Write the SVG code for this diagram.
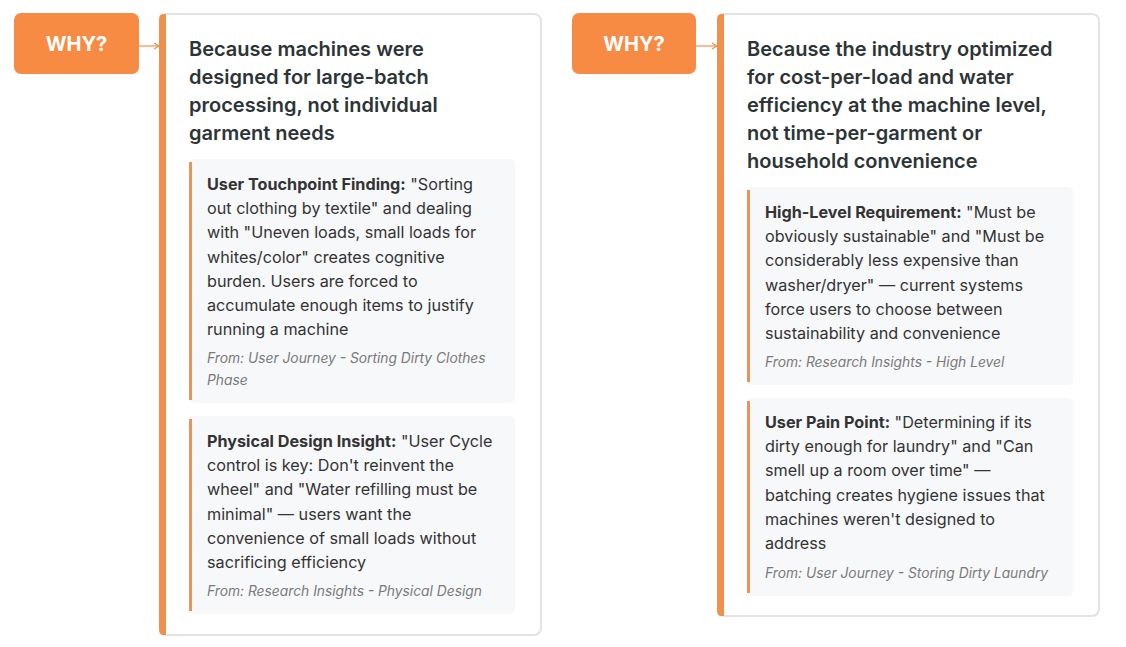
<svg xmlns="http://www.w3.org/2000/svg" width="1126" height="647" viewBox="0 0 1126 647">
<defs>
<style>
.why{fill:#F88B44}
.whyt{font-family:Inter,"Noto Sans",sans-serif;font-weight:700;font-size:20px;fill:#fff;text-anchor:middle}
.card{fill:#fff;stroke:#e3e3e3;stroke-width:2}
.bar{fill:#F0904F}
.title{font-family:Inter,"Noto Sans",sans-serif;font-weight:600;font-size:20px;fill:#2d3436}
.sub{fill:#f7f8fa}
.subbar{fill:#E8945C}
.body{font-family:Inter,"Noto Sans",sans-serif;font-size:16.2px;fill:#333}
.body tspan.b{font-weight:700}
.src{font-family:Inter,"Noto Sans",sans-serif;font-size:13.8px;font-style:italic;fill:#7a7a7a}
.conn{stroke:#F0904F;stroke-width:1.2;fill:none}
</style>
<marker id="ah" markerWidth="8" markerHeight="8" refX="6" refY="4" orient="auto" markerUnits="userSpaceOnUse">
<path d="M1,1 L6,4 L1,7" fill="none" stroke="#F0904F" stroke-width="1.2"/>
</marker>
</defs>
<rect width="1126" height="647" fill="#fff"/>
<g id="connectors">
<line class="conn" x1="139" y1="46" x2="159" y2="46" marker-end="url(#ah)"/>
<line class="conn" x1="696" y1="46" x2="717" y2="46" marker-end="url(#ah)"/>
</g>
<g id="why1">
<rect class="why" x="14" y="13" width="125" height="61" rx="7"/>
<text class="whyt" x="76.5" y="51">WHY?</text>
</g>
<g id="card1">
<rect class="card" x="160" y="14" width="381" height="621" rx="7"/>
<path class="bar" d="M166,14 L163,14 Q159,14 159,20 L159,629 Q159,635 163,635 L166,635 Z"/>
<text class="title"><tspan x="189" y="56">Because machines were</tspan><tspan x="189" y="84">designed for large-batch</tspan><tspan x="189" y="112">processing, not individual</tspan><tspan x="189" y="140">garment needs</tspan></text>
</g>
<g id="sub1">
<rect class="sub" x="189" y="159" width="326" height="244" rx="5"/>
<rect class="subbar" x="189" y="162" width="3" height="238"/>
<text class="body"><tspan x="207" y="190"><tspan class="b">User Touchpoint Finding:</tspan> "Sorting</tspan><tspan x="207" y="214">out clothing by textile" and dealing</tspan><tspan x="207" y="238">with "Uneven loads, small loads for</tspan><tspan x="207" y="263">whites/color" creates cognitive</tspan><tspan x="207" y="287">burden. Users are forced to</tspan><tspan x="207" y="311">accumulate enough items to justify</tspan><tspan x="207" y="335">running a machine</tspan></text>
<text class="src"><tspan x="207" y="363">From: User Journey - Sorting Dirty Clothes</tspan><tspan x="207" y="385">Phase</tspan></text>
</g>
<g id="sub2">
<rect class="sub" x="189" y="416" width="326" height="198" rx="5"/>
<rect class="subbar" x="189" y="419" width="3" height="192"/>
<text class="body"><tspan x="207" y="447"><tspan class="b">Physical Design Insight:</tspan> "User Cycle</tspan><tspan x="207" y="471">control is key: Don't reinvent the</tspan><tspan x="207" y="495">wheel" and "Water refilling must be</tspan><tspan x="207" y="520">minimal" — users want the</tspan><tspan x="207" y="544">convenience of small loads without</tspan><tspan x="207" y="568">sacrificing efficiency</tspan></text>
<text class="src"><tspan x="207" y="596">From: Research Insights - Physical Design</tspan></text>
</g>
<g id="why2">
<rect class="why" x="572" y="13" width="124" height="61" rx="7"/>
<text class="whyt" x="634" y="51">WHY?</text>
</g>
<g id="card2">
<rect class="card" x="718" y="14" width="381" height="602" rx="7"/>
<path class="bar" d="M724,14 L721,14 Q717,14 717,20 L717,610 Q717,616 721,616 L724,616 Z"/>
<text class="title"><tspan x="747" y="56">Because the industry optimized</tspan><tspan x="747" y="84">for cost-per-load and water</tspan><tspan x="747" y="112">efficiency at the machine level,</tspan><tspan x="747" y="140">not time-per-garment or</tspan><tspan x="747" y="168">household convenience</tspan></text>
</g>
<g id="sub3">
<rect class="sub" x="747" y="187" width="326" height="198" rx="5"/>
<rect class="subbar" x="747" y="190" width="3" height="192"/>
<text class="body"><tspan x="765" y="218"><tspan class="b">High-Level Requirement:</tspan> "Must be</tspan><tspan x="765" y="242">obviously sustainable" and "Must be</tspan><tspan x="765" y="266">considerably less expensive than</tspan><tspan x="765" y="291">washer/dryer" — current systems</tspan><tspan x="765" y="315">force users to choose between</tspan><tspan x="765" y="339">sustainability and convenience</tspan></text>
<text class="src"><tspan x="765" y="367">From: Research Insights - High Level</tspan></text>
</g>
<g id="sub4">
<rect class="sub" x="747" y="398" width="326" height="198" rx="5"/>
<rect class="subbar" x="747" y="401" width="3" height="192"/>
<text class="body"><tspan x="765" y="428"><tspan class="b">User Pain Point:</tspan> "Determining if its</tspan><tspan x="765" y="452">dirty enough for laundry" and "Can</tspan><tspan x="765" y="476">smell up a room over time" —</tspan><tspan x="765" y="501">batching creates hygiene issues that</tspan><tspan x="765" y="525">machines weren't designed to</tspan><tspan x="765" y="549">address</tspan></text>
<text class="src"><tspan x="765" y="578">From: User Journey - Storing Dirty Laundry</tspan></text>
</g>
</svg>
